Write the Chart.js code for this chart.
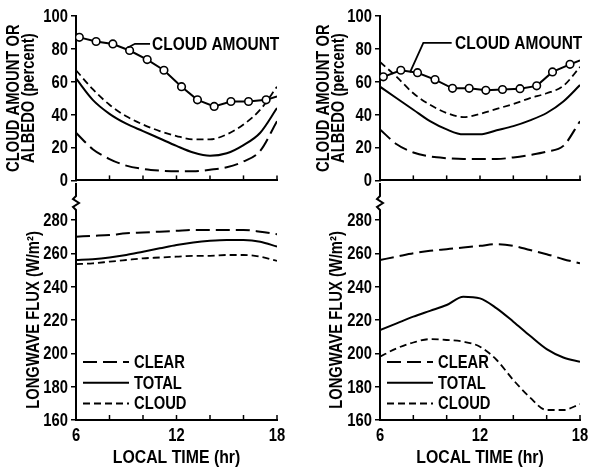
<!DOCTYPE html>
<html>
<head>
<meta charset="utf-8">
<script src="https://cdn.jsdelivr.net/npm/chart.js@4.4.0/dist/chart.umd.min.js"></script>
<style>
  body { margin: 0; background: #fff; }
  #wrap { position: relative; width: 594px; height: 470px; overflow: hidden; }
  canvas { position: absolute; }
</style>
</head>
<body>
<div id="wrap">
  <canvas id="topLeft" width="297" height="186" style="left:0;top:0"></canvas>
  <canvas id="topRight" width="297" height="186" style="left:297px;top:0"></canvas>
  <canvas id="botLeft" width="297" height="287" style="left:0;top:183px"></canvas>
  <canvas id="botRight" width="297" height="287" style="left:297px;top:183px"></canvas>
</div>
<script>
// local time (hr) for the smooth curves
const hours = [6, 7, 8, 9, 10, 11, 12, 13, 14, 15, 16, 17, 18];
const timeLabels = [6, 12, 18];

// left column, albedo / cloud amount (percent)
const cloudAmtHoursL = [6.2, 7.2, 8.2, 9.2, 10.25, 11.25, 12.3, 13.25, 14.25, 15.25, 16.3, 17.35, 18];
const cloudAmtL = [87, 84.5, 83, 79, 73.5, 67, 57, 49, 45, 48, 48, 49, 51];
const albedoClearL = [29, 19, 13, 9, 7, 6, 5.5, 5.5, 6.5, 8, 11.5, 18, 36];
const albedoTotalL = [62, 49, 40.5, 34.5, 30, 25.5, 21, 17, 15, 16.5, 21.5, 29, 44];
const albedoCloudL = [67, 55.5, 46, 39, 34, 30, 27, 25, 25, 28, 34, 43, 57];

// right column, albedo / cloud amount (percent)
const cloudAmtHoursR = [6.2, 7.25, 8.25, 9.3, 10.35, 11.35, 12.35, 13.35, 14.4, 15.4, 16.35, 17.4, 18];
const cloudAmtR = [63, 67, 65.5, 61.3, 56, 56, 54.8, 55.3, 55.8, 57.5, 66, 70.6, 73];
const albedoClearR = [31, 22, 17, 14.5, 13.5, 13, 13, 13, 14, 15.5, 17.5, 21, 36];
const albedoTotalR = [57, 50, 43, 36, 31, 28, 28, 30.5, 33, 36.5, 41, 48, 58];
const albedoCloudR = [72, 63, 53, 46, 41, 38.5, 40.5, 43.5, 46.5, 50, 53, 57.5, 69];

// longwave flux (W/m2)
const lwClearL = [270, 270.5, 271, 272, 272.5, 273, 273.5, 274, 274, 274, 274, 273, 271.5];
const lwTotalL = [256, 256.5, 257.5, 259, 261, 263, 265, 266.5, 267.5, 268, 268, 267, 264];
const lwCloudL = [253.5, 254, 255, 256, 257, 257.5, 258, 258.5, 258.5, 259, 259, 258, 255.5];
const lwClearR = [256, 258, 260, 261.5, 262.5, 263.5, 264.5, 265.5, 264.5, 262, 259.5, 256.5, 254];
const lwTotalR = [214, 218, 222, 225.5, 229, 234, 233, 227, 219, 210.5, 202.5, 197.5, 195];
const lwCloudR = [198, 203, 206.5, 208.5, 208, 207, 204, 196, 184, 173.5, 166, 166, 169.5];

const legendNames = ['CLEAR', 'TOTAL', 'CLOUD'];
const albedoTitle = ['CLOUD AMOUNT OR', 'ALBEDO (percent)'];
const fluxTitle = ['LONGWAVE FLUX (W/m\u00B2)'];
const timeTitle = 'LOCAL TIME (hr)';

// no narrow face installed, so Liberation Sans Bold gets squeezed like Arial Narrow
const FONT = "bold 18px 'Liberation Sans', Arial, sans-serif";
const SQUEEZE = 0.82;

const styles = {
  CLEAR: { borderDash: [14, 6], borderWidth: 2 },
  TOTAL: { borderDash: [], borderWidth: 2 },
  CLOUD: { borderDash: [7, 4], borderWidth: 1.8 }
};

function pts(xs, ys) {
  return xs.map((h, i) => ({ x: h, y: ys[i] }));
}

function curve(name, ys) {
  return Object.assign({
    label: name,
    data: pts(hours, ys),
    borderColor: '#000',
    pointRadius: 0,
    fill: false,
    cubicInterpolationMode: 'monotone'
  }, styles[name]);
}

function cloudAmount(xs, ys) {
  return {
    label: 'CLOUD AMOUNT',
    data: pts(xs, ys),
    borderColor: '#000',
    borderWidth: 2,
    backgroundColor: '#fff',
    pointBorderColor: '#000',
    pointBorderWidth: 1.6,
    // last point only carries the line on to 18 hr
    pointRadius: (c) => (c.dataIndex < ys.length - 1 ? 3.8 : 0),
    tension: 0
  };
}

function say(ctx, str, x, y, align, rotate, sx) {
  ctx.save();
  ctx.translate(x, y);
  if (rotate) ctx.rotate(-Math.PI / 2);
  ctx.scale(sx || SQUEEZE, 1);
  ctx.textAlign = align;
  ctx.fillText(str, 0, 0);
  ctx.restore();
}

// draws all text, inner time ticks, axis break, legend and the cloud amount label
const decor = {
  id: 'decor',
  afterDraw(chart, args, opts) {
    const { ctx, chartArea: a } = chart;
    const x = chart.scales.x, y = chart.scales.y;
    ctx.save();
    ctx.strokeStyle = '#000';
    ctx.fillStyle = '#000';
    ctx.lineWidth = 1.5;
    for (let h = 8; h <= 18; h += 2) {
      const px = x.getPixelForValue(h);
      ctx.beginPath();
      ctx.moveTo(px, a.bottom);
      ctx.lineTo(px, a.bottom - 5);
      ctx.stroke();
    }
    if (opts.brk) {
      const l = a.left;
      ctx.lineWidth = 2;
      ctx.beginPath();
      ctx.moveTo(l, 0);
      ctx.lineTo(l, 13);
      ctx.lineTo(l - 3, 16);
      ctx.lineTo(l + 3, 20);
      ctx.lineTo(l - 3, 24);
      ctx.lineTo(l, 27);
      ctx.lineTo(l, a.top);
      ctx.stroke();
    }
    ctx.font = FONT;
    ctx.textBaseline = 'middle';

    // y tick labels
    y.ticks.forEach((t) => {
      say(ctx, String(t.value), a.left - 8, y.getPixelForValue(t.value) + 1, 'right');
    });
    // y title, one or two lines
    const cy = (a.top + a.bottom) / 2;
    opts.ytitle.forEach((line, i) => {
      say(ctx, line, opts.tx + i * 15, cy, 'center', true);
    });
    if (opts.bottom) {
      timeLabels.forEach((h) => {
        say(ctx, String(h), x.getPixelForValue(h), a.bottom + 16, 'center');
      });
      say(ctx, timeTitle, (a.left + a.right) / 2, a.bottom + 38, 'center', false, 0.88);
    }
    if (opts.legend) {
      legendNames.forEach((name, i) => {
        const ly = a.bottom - 58 + i * 20.7;
        ctx.setLineDash(styles[name].borderDash);
        ctx.lineWidth = 2;
        ctx.beginPath();
        ctx.moveTo(a.left + 7, ly);
        ctx.lineTo(a.left + 53, ly);
        ctx.stroke();
        ctx.setLineDash([]);
        say(ctx, name, a.left + 58, ly + 1, 'left');
      });
    }
    if (opts.label) {
      const lb = opts.label;
      ctx.lineWidth = 1.8;
      ctx.beginPath();
      lb.leader.forEach((p, i) => {
        const px = x.getPixelForValue(p[0]), py = y.getPixelForValue(p[1]);
        if (i === 0) ctx.moveTo(px, py); else ctx.lineTo(px, py);
      });
      ctx.stroke();
      say(ctx, lb.text, x.getPixelForValue(lb.at[0]), y.getPixelForValue(lb.at[1]) + 1, 'left', false, 0.86);
    }
    ctx.restore();
  }
};

function makeChart(id, datasets, o) {
  return new Chart(document.getElementById(id), {
    type: 'line',
    data: { datasets: datasets },
    options: {
      responsive: false,
      animation: false,
      events: [],
      layout: { padding: o.padding },
      plugins: {
        legend: { display: false },
        tooltip: { enabled: false },
        decor: o.decor
      },
      scales: {
        x: {
          type: 'linear',
          min: 6,
          max: 18,
          afterFit: (s) => { s.height = o.xh; },
          grid: { display: true, drawOnChartArea: false, drawTicks: false },
          border: { color: '#000', width: 2 },
          ticks: { display: false, stepSize: 6 }
        },
        y: {
          min: o.ymin,
          max: o.ymax,
          afterFit: (s) => { s.width = o.yw; },
          grid: { display: true, drawOnChartArea: false, drawTicks: true, tickLength: 5, color: '#000', lineWidth: 1.5 },
          border: { color: '#000', width: 2 },
          ticks: { display: false, stepSize: 20 }
        }
      }
    },
    plugins: [decor]
  });
}

makeChart('topLeft', [
  cloudAmount(cloudAmtHoursL, cloudAmtL),
  curve('CLEAR', albedoClearL),
  curve('TOTAL', albedoTotalL),
  curve('CLOUD', albedoCloudL)
], {
  padding: { left: 0, right: 20, top: 16, bottom: 3 },
  xh: 0, yw: 76, ymin: 0, ymax: 100,
  decor: {
    ytitle: albedoTitle, tx: 14,
    label: { leader: [[9.1, 80.8], [9.52, 83.1], [10.42, 83.1]], text: 'CLOUD AMOUNT', at: [10.54, 83.1] }
  }
});

makeChart('topRight', [
  cloudAmount(cloudAmtHoursR, cloudAmtR),
  curve('CLEAR', albedoClearR),
  curve('TOTAL', albedoTotalR),
  curve('CLOUD', albedoCloudR)
], {
  padding: { left: 0, right: 14, top: 16, bottom: 3 },
  xh: 0, yw: 83, ymin: 0, ymax: 100,
  decor: {
    ytitle: albedoTitle, tx: 27,
    label: { leader: [[7.8, 65.7], [8.6, 83.7], [10.3, 83.7]], text: 'CLOUD AMOUNT', at: [10.5, 83.7] }
  }
});

makeChart('botLeft', [
  curve('CLEAR', lwClearL),
  curve('TOTAL', lwTotalL),
  curve('CLOUD', lwCloudL)
], {
  padding: { left: 0, right: 20, top: 37, bottom: 3 },
  xh: 47, yw: 76, ymin: 160, ymax: 280,
  decor: { ytitle: fluxTitle, tx: 34, brk: true, legend: true, bottom: true }
});

makeChart('botRight', [
  curve('CLEAR', lwClearR),
  curve('TOTAL', lwTotalR),
  curve('CLOUD', lwCloudR)
], {
  padding: { left: 0, right: 14, top: 37, bottom: 3 },
  xh: 47, yw: 83, ymin: 160, ymax: 280,
  decor: { ytitle: fluxTitle, tx: 40, brk: true, legend: true, bottom: true }
});
</script>
</body>
</html>
